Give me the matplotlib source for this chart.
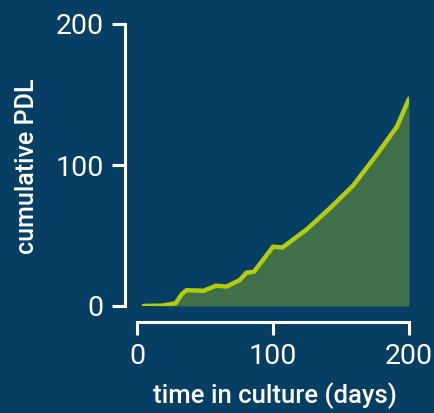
import matplotlib
matplotlib.use("Agg")
import matplotlib.pyplot as plt

# data
days = [5, 19, 28.5, 33, 36.5, 49, 58, 66, 75.5, 80.5, 86, 100, 107, 125, 142, 159, 176, 191, 200]
pdl = [0, 0.3, 2, 8.5, 11.2, 10.8, 14.4, 13.8, 18.4, 23.6, 24.3, 42, 41.5, 54.5, 69.5, 85.5, 107, 127, 147]
xticks = [0, 100, 200]
yticks = [0, 100, 200]
xlabel = "time in culture (days)"
ylabel = "cumulative PDL"

bg = "#073e63"
fill_c = "#40704a"
line_c = "#b3cc0c"
fg = "white"

plt.rcParams["font.family"] = ["Roboto", "DejaVu Sans"]

fig = plt.figure(figsize=(4.35, 4.13), dpi=100, facecolor=bg)
ax = fig.add_axes([137/435, 107/413, 272/435, 282/413])
ax.set_facecolor(bg)
ax.patch.set_alpha(0)

ax.fill_between(days, 0, pdl, color=fill_c, lw=0, zorder=1)
ax.plot(days, pdl, color=line_c, lw=3.2, solid_capstyle="round", solid_joinstyle="miter", zorder=2)

ax.set_xlim(0, 200)
ax.set_ylim(0, 200)
ax.set_xticks(xticks)
ax.set_yticks(yticks)
ax.set_xticklabels([str(t) for t in xticks])
ax.set_yticklabels([str(t) for t in yticks])

for s in ["top", "right"]:
    ax.spines[s].set_visible(False)
ax.spines["left"].set_position(("outward", 8.6))
ax.spines["bottom"].set_position(("outward", 11.5))
ax.spines["left"].set_bounds(0, 200)
ax.spines["bottom"].set_bounds(0, 200)
for s in ["left", "bottom"]:
    ax.spines[s].set_color(fg)
    ax.spines[s].set_linewidth(2.2)

ax.tick_params(axis="both", colors=fg, length=9.5, width=2.2, labelsize=20.5, pad=6)
ax.tick_params(axis="y", pad=6)

fig.text(274.5/435, 1 - 396/413, xlabel, color=fg, fontsize=18.5, fontweight="medium",
         ha="center", va="center")
fig.text(27/435, 1 - 166/413, ylabel, color=fg, fontsize=18, fontweight="medium",
         ha="center", va="center", rotation=90)

fig.savefig("out.png", dpi=100, facecolor=bg)
